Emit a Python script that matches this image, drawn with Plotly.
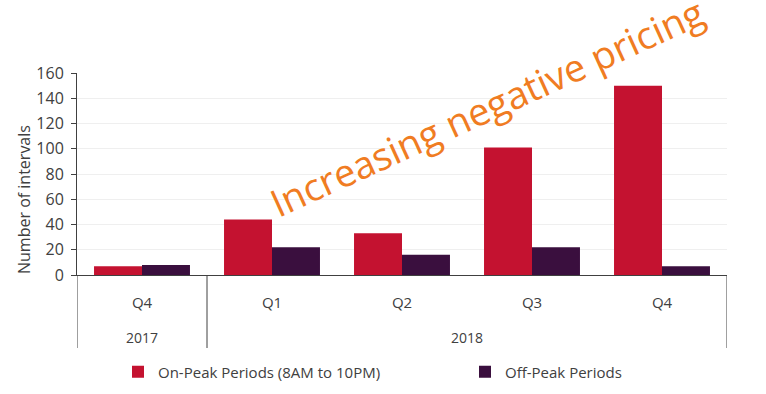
import plotly.graph_objects as go

years = ["2017", "2018", "2018", "2018", "2018"]
quarters = ["Q4", "Q1", "Q2", "Q3", "Q4"]
on_peak = [7, 44, 33, 101, 150]
off_peak = [8, 22, 16, 22, 7]
y_ticks = [0, 20, 40, 60, 80, 100, 120, 140, 160]

categories = [f"{q} {y}" for y, q in zip(years, quarters)]

FONT = "Open Sans, Noto Sans, sans-serif"
TXT = "#404040"
L, R, T, B = 77, 39, 73, 119
W, H = 766, 394
PW, PH = W - L - R, H - T - B


def px_x(px):
    return (px - L) / PW


def px_y(py):
    return (H - B - py) / PH


fig = go.Figure()
fig.add_trace(go.Bar(x=categories, y=on_peak, name="On-Peak Periods (8AM to 10PM)",
                     marker=dict(color="#C41230", line=dict(width=0)), legend="legend"))
fig.add_trace(go.Bar(x=categories, y=off_peak, name="Off-Peak Periods",
                     marker=dict(color="#3A0F3E", line=dict(width=0)), legend="legend2"))

fig.update_layout(
    width=W, height=H,
    margin=dict(l=L, r=R, t=T, b=B, autoexpand=False),
    paper_bgcolor="white", plot_bgcolor="white",
    barmode="group", bargap=0.262, bargroupgap=0,
    font=dict(family=FONT, size=15, color=TXT),
    showlegend=True,
    legend=dict(orientation="h", x=px_x(118), xanchor="left", y=px_y(372), yanchor="middle",
                font=dict(size=15, color=TXT), bgcolor="rgba(0,0,0,0)"),
    legend2=dict(orientation="h", x=px_x(465), xanchor="left", y=px_y(372), yanchor="middle",
                 font=dict(size=15, color=TXT), bgcolor="rgba(0,0,0,0)"),
    xaxis=dict(type="category", tickvals=categories, ticktext=quarters,
               showline=True, linecolor="#404040", linewidth=1,
               ticks="", tickfont=dict(size=15, color=TXT), showgrid=False,
               ticklabelstandoff=14, range=[-0.5, len(categories) - 0.5]),
    yaxis=dict(range=[0, 160], tickvals=y_ticks, showline=True, linecolor="#404040", linewidth=1,
               ticks="outside", ticklen=5, tickcolor="#404040",
               gridcolor="#EFEFEF", gridwidth=1, zeroline=False,
               tickfont=dict(size=16, color=TXT), ticklabelstandoff=4),
)

# axis title
fig.add_annotation(text="Number of intervals", xref="paper", yref="paper",
                   x=px_x(24), y=px_y(200), xanchor="center", yanchor="middle",
                   textangle=-90, showarrow=False, font=dict(size=16, color=TXT))

# year labels and dividers
uniq_years = []
for yv in years:
    if yv not in uniq_years:
        uniq_years.append(yv)
div_bottom = px_y(348)
boundaries = [-0.5]
for yv in uniq_years:
    idx = [i for i, v in enumerate(years) if v == yv]
    fig.add_annotation(text=yv, xref="x", yref="paper", x=sum(idx) / len(idx), y=px_y(337),
                       xanchor="center", yanchor="middle", showarrow=False,
                       font=dict(size=14, color=TXT))
    boundaries.append(idx[-1] + 0.5)
for bx in boundaries:
    fig.add_shape(type="line", xref="x", yref="paper", x0=bx, x1=bx, y0=0, y1=div_bottom,
                  line=dict(color="#404040", width=1))

fig.add_annotation(text="Increasing negative pricing", xref="paper", yref="paper",
                   x=px_x(486), y=px_y(107), xanchor="center", yanchor="middle", showarrow=False,
                   textangle=-24.5, font=dict(family=FONT, size=38, color="#F07C22"))

fig.write_html("out.html", config={"displayModeBar": False},
               post_script="document.body.style.margin='0';")
